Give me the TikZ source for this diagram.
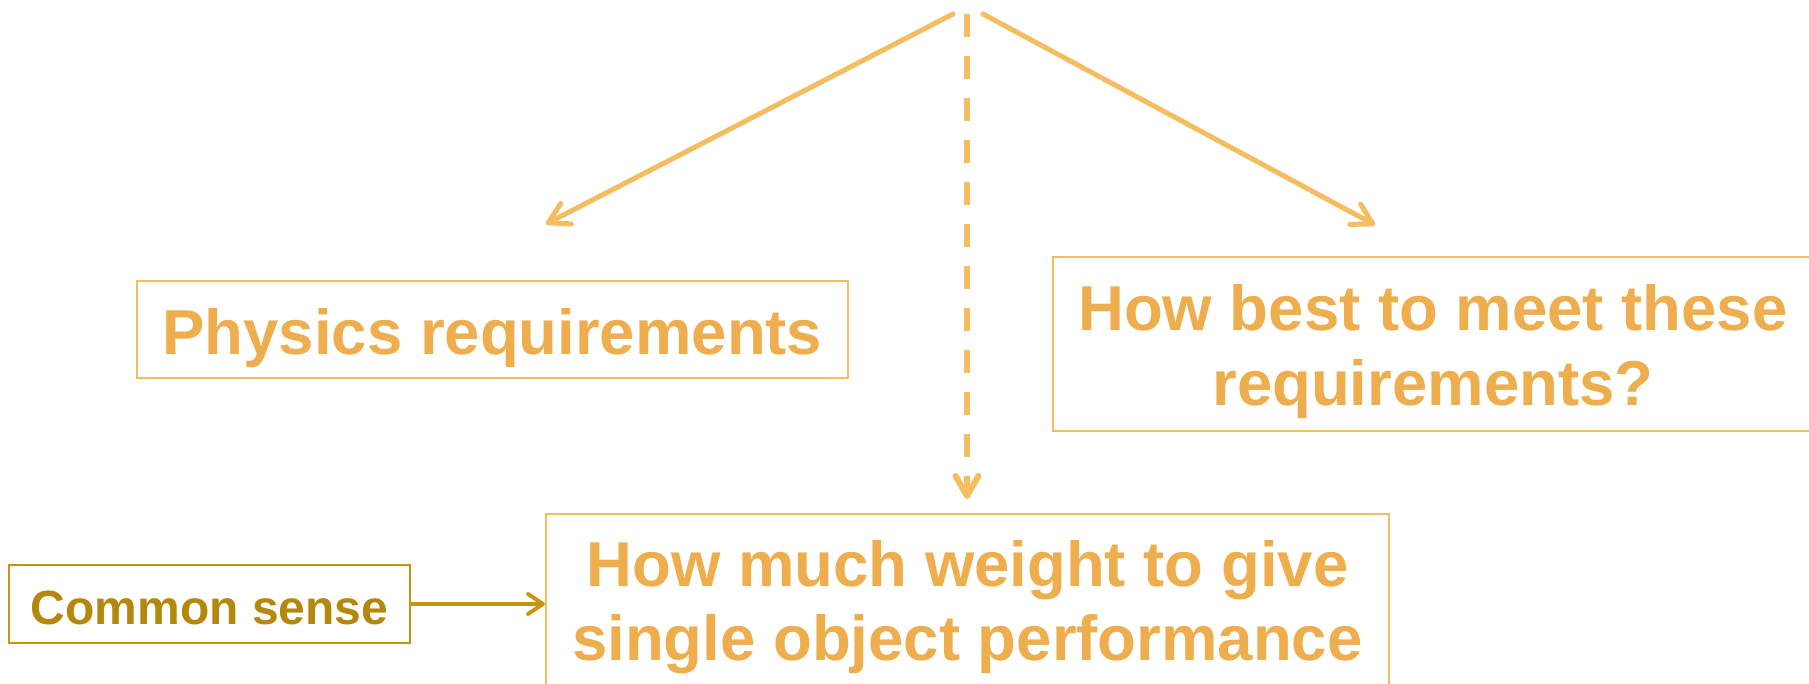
\documentclass[tikz,border=0pt]{standalone}
\usepackage{fontspec}
\setmainfont{Liberation Sans}
\usetikzlibrary{arrows.meta}
\definecolor{lineor}{RGB}{243,189,96}
\definecolor{textor}{RGB}{238,174,78}
\definecolor{goldline}{RGB}{196,150,16}
\definecolor{goldtext}{RGB}{180,136,12}
\newcommand\twoline[3]{\vtop{\baselineskip=#1\halign{\hfil##\hfil\cr #2\cr #3\cr}}}
\begin{document}
\begin{tikzpicture}[x=0.5pt,y=-0.5pt,
  obox/.style={draw=lineor, line width=0.9pt, text=textor, font=\fontsize{31.75pt}{37.5pt}\selectfont\bfseries, inner sep=0pt, anchor=north west},
  gbox/.style={draw=goldline, line width=1pt, text=goldtext, font=\fontsize{24pt}{28pt}\selectfont\bfseries, inner sep=0pt, anchor=north west},
  oarrow/.style={draw=lineor, line width=2.5pt, line cap=round, -{Straight Barb[length=10pt,width=11.5pt,round]}},
  garrow/.style={draw=goldline, line width=2pt, line cap=round, -{Straight Barb[length=7.5pt,width=10pt,round]}},
  ]
\clip (0,0) rectangle (1809,684);
\fill[white] (0,0) rectangle (1809,684);

\node[obox, minimum width=355.5pt, text height=37pt, text depth=11.5pt] (phys) at (136,280) {Physics requirements};
\node[obox, minimum width=380pt, text height=37pt, text depth=50pt] (best) at (1052,256) {\twoline{37.5pt}{How best to meet these}{requirements?}};
\node[obox, minimum width=421.5pt, text height=36.5pt, text depth=120pt] (hm) at (545,513) {\twoline{37pt}{How much weight to give}{single object performance}};
\node[gbox, minimum width=200.5pt, text height=29.5pt, text depth=9.5pt] (cs) at (8,564) {Common sense};

\coordinate (srcL) at (953,14);
\coordinate (srcM) at (967,14);
\coordinate (srcR) at (983,14);
\coordinate (tipL) at (546,224);
\coordinate (tipR) at (1375,225);

\draw[oarrow] (srcL) -- (tipL);
\draw[oarrow] (srcR) -- (tipR);
\draw[oarrow, line width=3pt, line cap=butt, dash pattern=on 11.5pt off 9.5pt, shorten >=7pt] (srcM) -- (srcM |- hm.north);
\draw[garrow] (cs.east) -- (cs.east -| hm.west);
\end{tikzpicture}
\end{document}
